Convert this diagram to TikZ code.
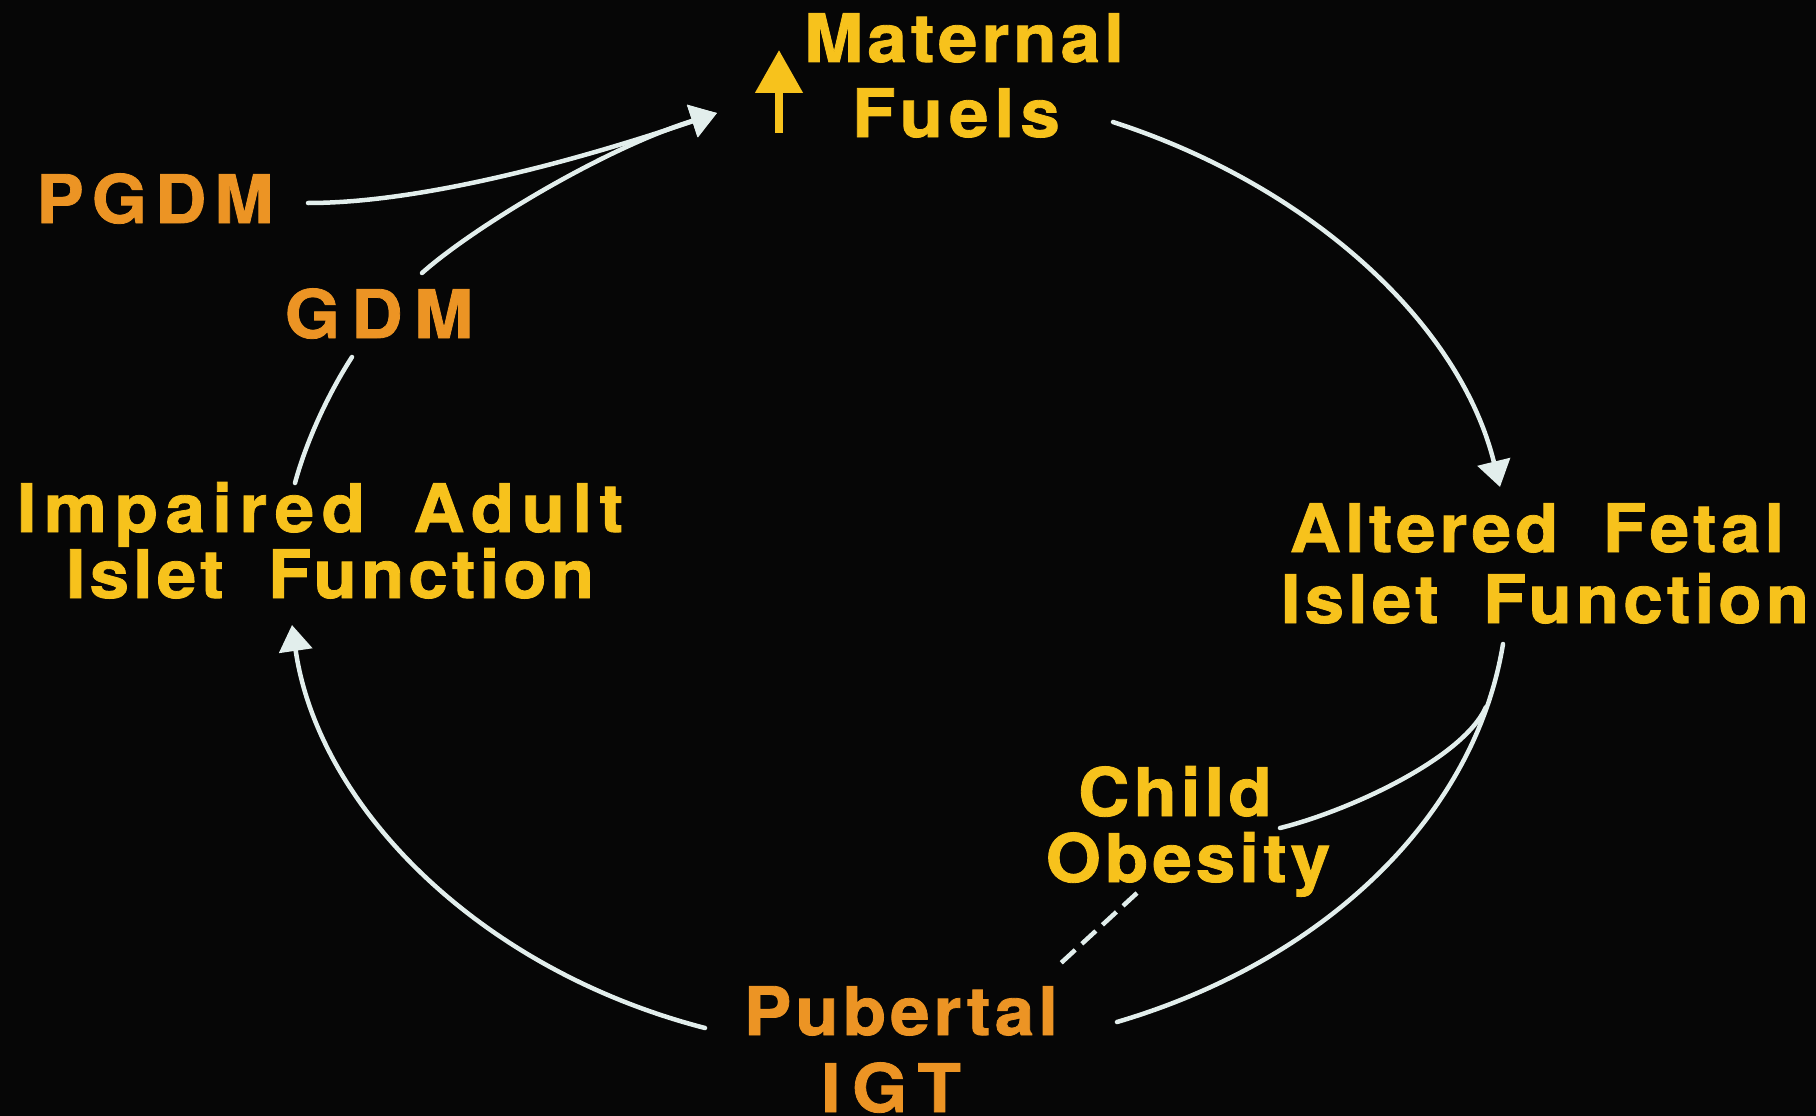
\documentclass[tikz,border=0pt]{standalone}
\usepackage{fontspec}
\newfontfamily\slidefont{TeX Gyre Heros}[LetterSpace=6,FakeStretch=1.06,FakeBold=1.2]
\usetikzlibrary{arrows.meta}
\definecolor{bg}{RGB}{6,6,6}
\definecolor{ylw}{RGB}{247,194,28}
\definecolor{org}{RGB}{236,148,36}
\definecolor{wline}{RGB}{226,238,236}
\newcommand{\wg}{\hspace{0.66em}}
\newcommand{\ls}[1]{\addfontfeatures{LetterSpace=#1}}
\begin{document}
\begin{tikzpicture}[x=1pt,y=-1pt,
  lbl/.style={inner sep=0pt, anchor=base, font=\slidefont\bfseries\fontsize{67}{67}\selectfont},
  ytxt/.style={lbl, text=ylw},
  otxt/.style={lbl, text=org},
  conn/.style={draw=wline, line width=4.5pt, line cap=round},
  arr/.style={conn, -{Triangle[width=33pt,length=26pt]}},
  dsh/.style={conn, line cap=butt, dash pattern=on 19pt off 9pt},
]
\fill[bg] (0,0) rectangle (1816,1116);
\useasboundingbox (0,0) rectangle (1816,1116);

% labels
\node[ytxt] (mat) at (964,62) {Maternal};
\node[ytxt] (fue) at (956,137) {\ls{9}Fuels};
\node[otxt] (pgdm) at (155,223) {\ls{12}PGDM};
\node[otxt] (gdm) at (379,338) {\ls{17}GDM};
\node[ytxt] (imp1) at (320,532) {\ls{11}Impaired\hspace{0.72em}Adult};
\node[ytxt] (imp2) at (330,598) {Islet\wg Function};
\node[ytxt] (alt1) at (1537,552) {Altered\wg Fetal};
\node[ytxt] (alt2) at (1545,623) {Islet\wg Function};
\node[ytxt] (chi1) at (1175,816) {Child};
\node[ytxt] (chi2) at (1188,882) {Obesity};
\node[otxt] (pub1) at (901,1035) {Pubertal};
\node[otxt] (pub2) at (891,1112) {\ls{17}IGT};

% up arrow before Maternal Fuels
\coordinate (upB) at (779,133);
\coordinate (upT) at (779,50);
\draw[draw=ylw, line width=8pt, -{Triangle[width=46pt,length=43pt]}] (upB) -- (upT);

% connector end points
\coordinate (tipM) at (717,113);
\coordinate (pgS) at (308,203);
\coordinate (gdS) at (422,273);
\coordinate (impT) at (295,483);
\coordinate (gdB) at (352,357);
\coordinate (fuR) at (1113,122);
\coordinate (tipA) at (1500,487);
\coordinate (altB) at (1503,644);
\coordinate (pubR) at (1117,1022);
\coordinate (junc) at (1486,707);
\coordinate (obR) at (1280,828);
\coordinate (obB) at (1137,893);
\coordinate (pubT) at (1061,963);
\coordinate (pubL) at (705,1028);
\coordinate (tipI) at (292,625);

% connectors
\draw[arr] (pgS) .. controls (440,203) and (620,146) .. (tipM);
\draw[arr] (gdS) .. controls (470,230) and (600,150) .. (tipM);
\draw[conn] (impT) .. controls (306,442) and (328,394) .. (gdB);
\draw[arr] (fuR) .. controls (1311,186) and (1460,324) .. (tipA);
\draw[conn] (altB) .. controls (1475,815) and (1327,960) .. (pubR);
\draw[conn] (junc) .. controls (1462,760) and (1345,812) .. (obR);
\draw[dsh] (obB) -- (pubT);
\draw[arr] (pubL) .. controls (477,969) and (318,805) .. (tipI);
\end{tikzpicture}
\end{document}
